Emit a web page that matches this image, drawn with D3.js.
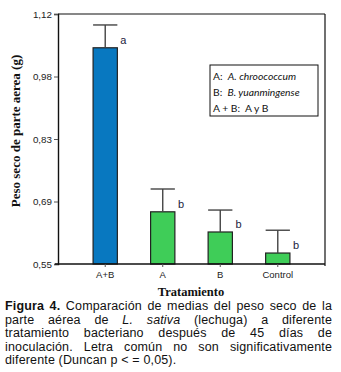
<!DOCTYPE html>
<html>
<head>
<meta charset="utf-8">
<script src="https://cdn.jsdelivr.net/npm/d3@7"></script>
<style>
  body { margin: 0; background: #fff; }
  #wrap { position: relative; width: 341px; height: 372px; overflow: hidden; }
  svg { position: absolute; left: 0; top: 0; }
  #caption { position: absolute; left: 5px; top: 300px; width: 327px;
    font-family: "Liberation Sans", Arial, sans-serif; font-size: 12.5px; letter-spacing: 0.15px;
    line-height: 13.6px; color: #111; }
  #caption div { text-align: justify; text-align-last: justify; white-space: nowrap; }
  #caption div.last { text-align-last: left; }
</style>
</head>
<body>
<div id="wrap"></div>
<script>
// datos
var treatments = ["A+B", "A", "B", "Control"];
var means = [1.043, 0.669, 0.623, 0.575];
var errors = [0.052, 0.052, 0.050, 0.052];
var letters = ["a", "b", "b", "b"];
var barColors = ["#0878c0", "#3fcd58", "#3fcd58", "#3fcd58"];
var tickValues = [0.55, 0.6925, 0.835, 0.9775, 1.12];
var tickLabels = ["0,55", "0,69", "0,83", "0,98", "1,12"];
var legendLines = [
  ["A:  ", "A. chroococcum"],
  ["B:  ", "B. yuanmingense"],
  ["A + B:  A y B", ""]
];

var svg = d3.select("#wrap").append("svg")
  .attr("width", 341).attr("height", 300);

var pLeft = 58, pRight = 325, pTop = 14, pBottom = 264;

var y = d3.scaleLinear().domain([0.55, 1.12]).range([pBottom, pTop]);
var x = d3.scaleBand().domain(treatments).range([pLeft, pRight]).paddingInner(0.578).paddingOuter(0.61);

// frame
svg.append("line").attr("x1", pLeft).attr("x2", pRight).attr("y1", pTop).attr("y2", pTop)
  .attr("stroke", "#111").attr("stroke-width", 1.2);
svg.append("line").attr("x1", pRight).attr("x2", pRight).attr("y1", pTop).attr("y2", pBottom + 2)
  .attr("stroke", "#111").attr("stroke-width", 1.2);

// y axis
var yAxis = d3.axisLeft(y).tickValues(tickValues).tickSize(4).tickPadding(2)
  .tickFormat(function(d, i) { return tickLabels[i]; });
var gy = svg.append("g").attr("transform", "translate(" + pLeft + ",0)").call(yAxis);
gy.select(".domain").attr("stroke", "#111").attr("stroke-width", 1.4);
gy.selectAll(".tick line").attr("stroke", "#555");
gy.selectAll("text").attr("font-family", "Liberation Sans, Arial, sans-serif")
  .attr("font-size", 9.8).attr("fill", "#222");

// bars
svg.selectAll("rect.bar").data(means).enter().append("rect")
  .attr("class", "bar")
  .attr("x", function(d, i) { return x(treatments[i]); })
  .attr("width", x.bandwidth())
  .attr("y", function(d) { return y(d); })
  .attr("height", function(d) { return pBottom - y(d); })
  .attr("fill", function(d, i) { return barColors[i]; })
  .attr("stroke", "#222").attr("stroke-width", 1.2);

// error bars
var eb = svg.selectAll("g.err").data(means).enter().append("g").attr("class", "err");
eb.append("line")
  .attr("x1", function(d, i) { return x(treatments[i]) + x.bandwidth() / 2; })
  .attr("x2", function(d, i) { return x(treatments[i]) + x.bandwidth() / 2; })
  .attr("y1", function(d) { return y(d); })
  .attr("y2", function(d, i) { return y(d + errors[i]); })
  .attr("stroke", "#444").attr("stroke-width", 1.4);
eb.append("line")
  .attr("x1", function(d, i) { return x(treatments[i]); })
  .attr("x2", function(d, i) { return x(treatments[i]) + x.bandwidth(); })
  .attr("y1", function(d, i) { return y(d + errors[i]); })
  .attr("y2", function(d, i) { return y(d + errors[i]); })
  .attr("stroke", "#444").attr("stroke-width", 1.4);

// letters
svg.selectAll("text.sig").data(means).enter().append("text")
  .attr("class", "sig")
  .attr("x", function(d, i) { return x(treatments[i]) + x.bandwidth() + 3; })
  .attr("y", function(d, i) { return y(d) - 4; })
  .attr("font-family", "Liberation Sans, Arial, sans-serif")
  .attr("font-size", 11)
  .attr("fill", "#1c2340")
  .text(function(d, i) { return letters[i]; });

// x axis
var xAxis = d3.axisBottom(x).tickSize(3).tickPadding(4);
var gx = svg.append("g").attr("transform", "translate(0," + pBottom + ")").call(xAxis);
gx.select(".domain").attr("d", "M" + (pLeft - 3) + ",0H" + pRight).attr("stroke", "#111").attr("stroke-width", 1.6);
gx.selectAll(".tick line").attr("stroke", "#555");
gx.selectAll("text").attr("font-family", "Liberation Sans, Arial, sans-serif")
  .attr("font-size", 9.5).attr("fill", "#222");

// axis titles
svg.append("text")
  .attr("transform", "translate(19.5,131) rotate(-90)")
  .attr("text-anchor", "middle")
  .attr("font-family", "Liberation Serif, Times New Roman, serif")
  .attr("font-weight", "bold").attr("font-size", 13).attr("fill", "#111")
  .text("Peso seco de parte aerea (g)");
svg.append("text")
  .attr("x", 191).attr("y", 296)
  .attr("text-anchor", "middle")
  .attr("font-family", "Liberation Serif, Times New Roman, serif")
  .attr("font-weight", "bold").attr("font-size", 12.5).attr("fill", "#111")
  .text("Tratamiento");

// legend
svg.append("rect").attr("x", 210).attr("y", 65).attr("width", 108).attr("height", 51)
  .attr("fill", "#fff").attr("stroke", "#111").attr("stroke-width", 1);
var lt = svg.selectAll("text.leg").data(legendLines).enter().append("text")
  .attr("class", "leg")
  .attr("x", 213)
  .attr("y", function(d, i) { return 79.5 + i * 16; })
  .attr("font-family", "Lato, Open Sans, sans-serif")
  .attr("font-size", 10.3).attr("fill", "#111")
  .attr("xml:space", "preserve");
lt.append("tspan").text(function(d) { return d[0]; });
lt.append("tspan").attr("font-style", "italic").text(function(d) { return d[1]; });

// caption
var cap = d3.select("#wrap").append("div").attr("id", "caption");
cap.append("div").html("<b>Figura 4.</b> Comparación de medias del peso seco de la");
cap.append("div").html("parte aérea de <i>L. sativa</i> (lechuga) a diferente");
cap.append("div").text("tratamiento bacteriano después de 45 días de");
cap.append("div").text("inoculación. Letra común no son significativamente");
cap.append("div").attr("class", "last").text("diferente (Duncan p < = 0,05).");
</script>
</body>
</html>
